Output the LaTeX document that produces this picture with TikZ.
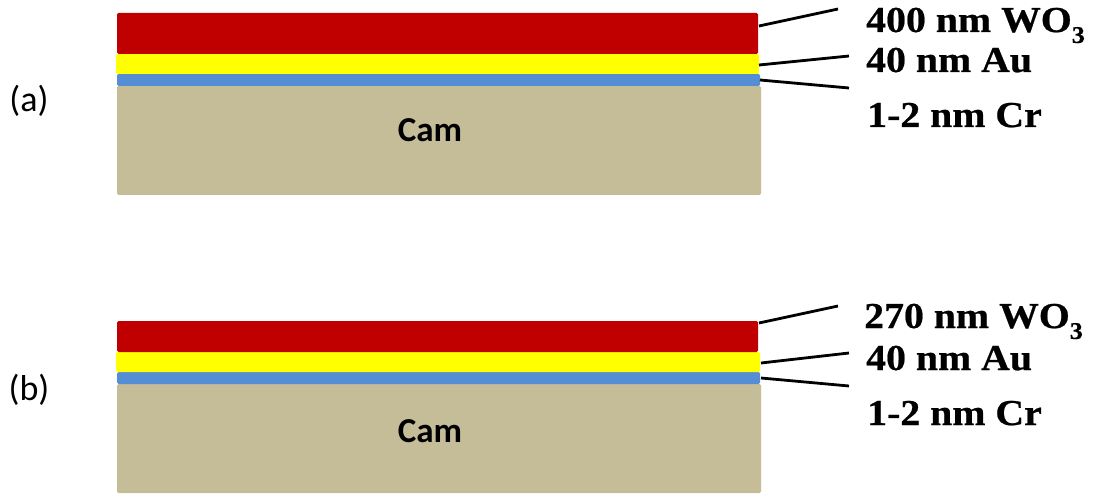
\documentclass[tikz,border=0pt]{standalone}
\usepackage{fontspec}
\newfontfamily\labelfont[FakeStretch=1.09,FakeBold=0.6]{Liberation Serif}
\newfontfamily\calfont{Carlito}
\definecolor{wored}{HTML}{C00000}
\definecolor{auyellow}{HTML}{FFFF00}
\definecolor{crblue}{HTML}{558ED5}
\definecolor{camtan}{HTML}{C4BD97}
\tikzset{
  layer/.style={rectangle, inner sep=0pt, outer sep=0pt, anchor=north west, rounded corners=1.5pt},
  leader/.style={line width=2.8pt, black},
  thick label/.style={anchor=base west, inner sep=0pt, font=\labelfont\bfseries\fontsize{36.5}{40}\selectfont},
  panel tag/.style={anchor=base, inner sep=0pt, font=\calfont\fontsize{36}{40}\selectfont},
  sub tag/.style={anchor=base, inner sep=0pt, font=\calfont\bfseries\fontsize{35}{40}\selectfont},
}
\newcommand{\sublabel}[1]{\raisebox{-0.3em}{\fontsize{24}{24}\selectfont #1}}
\begin{document}
\begin{tikzpicture}[x=1pt,y=-1pt]
\useasboundingbox (0,0) rectangle (1097,494);

% ---- stack (a) ----
\node[layer, fill=camtan, minimum width=644pt, minimum height=109pt] (tanA) at (117,86) {};
\node[layer, fill=crblue, minimum width=643pt, minimum height=12pt] (blueA) at (117,74) {};
\node[layer, fill=auyellow, minimum width=643pt, minimum height=20pt] (yelA) at (116,54) {};
\node[layer, fill=wored, minimum width=641pt, minimum height=41pt] (redA) at (117,13) {};
\node[sub tag] (camA) at (430,142) {Cam};
\node[panel tag] (tagA) at (29,112) {(a)};

\coordinate (endA1) at (838,9);
\coordinate (endA2) at (849,56);
\coordinate (endA3) at (849,88);
\draw[leader] ([shift={(1pt,-13pt)}]redA.north east) -- (endA1);
\draw[leader] ([shift={(0pt,-1pt)}]yelA.east) -- (endA2);
\draw[leader] ([shift={(0pt,0pt)}]blueA.east) -- (endA3);

\node[thick label] (woA) at (866,32) {400 nm WO\sublabel{3}};
\node[thick label] (auA) at (866,72) {40 nm Au};
\node[thick label] (crA) at (867,127) {1-2 nm Cr};

% ---- stack (b) ----
\node[layer, fill=camtan, minimum width=644pt, minimum height=109pt] (tanB) at (117,384) {};
\node[layer, fill=crblue, minimum width=643pt, minimum height=12pt] (blueB) at (117,372) {};
\node[layer, fill=auyellow, minimum width=644pt, minimum height=20pt] (yelB) at (116,352) {};
\node[layer, fill=wored, minimum width=641pt, minimum height=31pt] (redB) at (117,321) {};
\node[sub tag] (camB) at (430,442) {Cam};
\node[panel tag] (tagB) at (29,400) {(b)};

\coordinate (endB1) at (838,306);
\coordinate (endB2) at (849,353);
\coordinate (endB3) at (849,386);
\draw[leader] ([shift={(1pt,-2pt)}]redB.north east) -- (endB1);
\draw[leader] ([shift={(1pt,-1pt)}]yelB.east) -- (endB2);
\draw[leader] ([shift={(1pt,0pt)}]blueB.east) -- (endB3);

\node[thick label] (woB) at (864,328) {270 nm WO\sublabel{3}};
\node[thick label] (auB) at (866,370) {40 nm Au};
\node[thick label] (crB) at (867,425) {1-2 nm Cr};
\end{tikzpicture}
\end{document}
